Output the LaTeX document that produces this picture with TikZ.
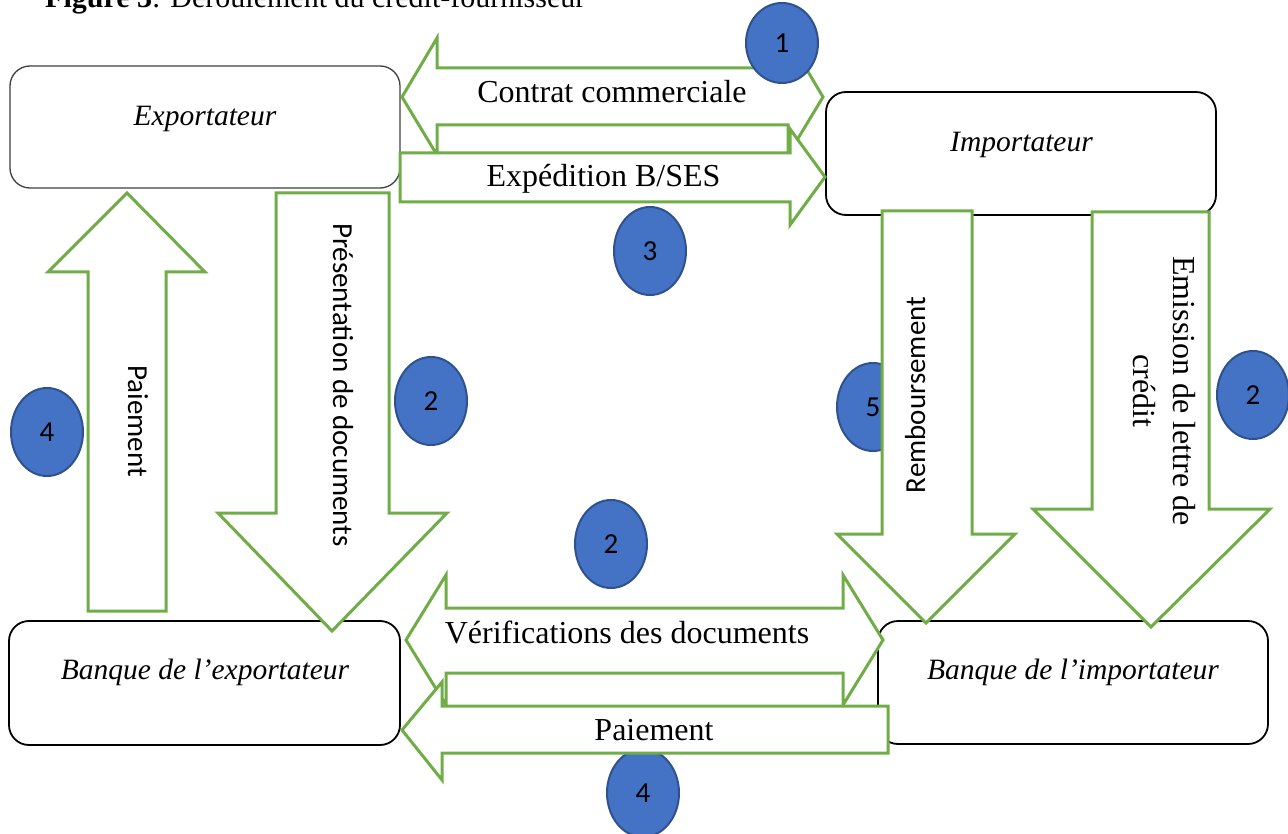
\documentclass[tikz,border=0pt]{standalone}
\usepackage{fontspec}
\setmainfont{Liberation Serif}
\newfontfamily\calibrisub{Carlito}
\usetikzlibrary{shapes.geometric,calc}
\definecolor{arrowgreen}{HTML}{70AD47}
\definecolor{badgeblue}{HTML}{4472C4}
\definecolor{badgeedge}{HTML}{2F528F}
\tikzset{
  party/.style={draw=black, line width=1.8pt, rounded corners=20pt, fill=white, inner sep=0pt},
  partylabel/.style={anchor=base, inner sep=0pt, font=\fontsize{29.5}{35}\selectfont\itshape},
  blockarrow/.style={draw=arrowgreen, fill=white, line width=3pt, line join=miter},
  flowlabel/.style={anchor=base, inner sep=0pt, font=\fontsize{32}{40}\selectfont},
  sidelabel/.style={anchor=base, inner sep=0pt, font=\calibrisub\fontsize{29}{35}\selectfont},
  badge/.style={ellipse, fill=badgeblue, draw=badgeedge, line width=2pt,
    minimum width=72pt, minimum height=88pt, inner sep=0pt,
    font=\calibrisub\fontsize{29}{35}\selectfont},
}
\begin{document}
\begin{tikzpicture}[x=1pt,y=-1pt]
\useasboundingbox (0,0) rectangle (1288,834);
\clip (0,0) rectangle (1288,834);
\fill[white] (0,0) rectangle (1288,834);

% caption line at the top edge
\node[anchor=base west, inner sep=0pt, font=\fontsize{30}{36}\selectfont] (title) at (45,8)
  {\textbf{Figure 3}: Déroulement du crédit-fournisseur};

% the four parties
\node[party, draw=black!75, line width=1.3pt, minimum width=390pt, minimum height=122pt] (exp) at (205,127) {};
\node[party, minimum width=390pt, minimum height=123pt] (imp) at (1021,153.5) {};
\node[party, minimum width=391pt, minimum height=124pt] (bexp) at (204.5,683) {};
\node[party, minimum width=390pt, minimum height=123pt] (bimp) at (1073,682.5) {};
\node[partylabel] (expname) at ($(exp.north)+(0,60)$) {Exportateur};
\node[partylabel] (impname) at ($(imp.north)+(0.5,60)$) {Importateur};
\node[partylabel] (bexpname) at ($(bexp.north)+(0.5,59)$) {Banque de l’exportateur};
\node[partylabel] (bimpname) at ($(bimp.north)+(0,59)$) {Banque de l’importateur};

% step badges lying under the arrows
\node[badge] (b5) at (873,407) {5};
\node[badge] (b4b) at (643,793) {4};

% 1: commercial contract (double arrow)
\draw[blockarrow] (402,97) -- (437,38) -- (437,68) -- (788,68) -- (788,38) -- (823,97)
  -- (788,155) -- (788,125) -- (437,125) -- (437,155) -- cycle;
% 3: shipment
\draw[blockarrow] (400,153) -- (790,153) -- (790,129) -- (825,177) -- (790,225)
  -- (790,202) -- (400,202) -- cycle;
% 2: presentation of documents
\draw[blockarrow] (276,193) -- (389,193) -- (389,513) -- (447,513) -- (332,631)
  -- (218,513) -- (276,513) -- cycle;
% 4: payment to the exporter
\draw[blockarrow] (127,193) -- (205,272) -- (166,272) -- (166,611) -- (88,611)
  -- (88,272) -- (48,272) -- cycle;
% 5: reimbursement
\draw[blockarrow] (882,211) -- (972,211) -- (972,534) -- (1015,534) -- (926,623)
  -- (837,534) -- (882,534) -- cycle;
% 2: letter of credit
\draw[blockarrow] (1092,212) -- (1209,212) -- (1209,509) -- (1270,509) -- (1151,627)
  -- (1033,509) -- (1092,509) -- cycle;
% 2: document checks between banks (double arrow)
\draw[blockarrow] (406,640) -- (446,575) -- (446,608) -- (843,608) -- (843,575) -- (883,640)
  -- (843,705) -- (843,673) -- (446,673) -- (446,705) -- cycle;
% 4: interbank payment
\draw[blockarrow] (402,730) -- (442,682) -- (442,706) -- (888,706) -- (888,753)
  -- (442,753) -- (442,780) -- cycle;

% arrow labels
\node[flowlabel] (contrat) at (612,103) {Contrat commerciale};
\node[flowlabel] (exped) at (603.5,187) {Expédition B/SES};
\node[flowlabel] (verif) at (627,643) {Vérifications des documents};
\node[flowlabel] (paieb) at (654,740) {Paiement};
\node[sidelabel, rotate=-90] (present) at (333,385) {Présentation de documents};
\node[sidelabel, rotate=-90] (paiel) at (128,421) {Paiement};
\node[sidelabel, rotate=90] (rembours) at (925,395) {Remboursement};
\node[rotate=-90, align=center, inner sep=0pt, font=\fontsize{32}{40}\selectfont]
  (emission) at (1164,391) {Emission de lettre de\\crédit};

% remaining step badges
\node[badge, minimum height=80pt] (b1) at (782,43) {1};
\node[badge] (b3) at (650,251) {3};
\node[badge] (b2a) at (431,401) {2};
\node[badge] (b2b) at (611,544) {2};
\node[badge] (b2c) at (1253,395) {2};
\node[badge] (b4a) at (47,432) {4};
\end{tikzpicture}
\end{document}
